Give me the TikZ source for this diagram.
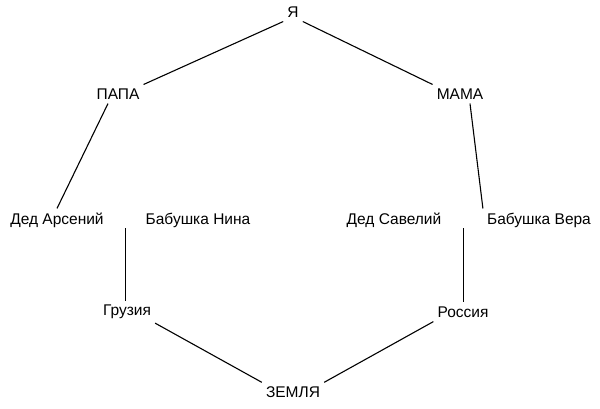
\documentclass[tikz,border=0pt]{standalone}
\usepackage{fontspec}
\setmainfont{Liberation Sans}
\begin{document}
\begin{tikzpicture}[x=1pt,y=-1pt,
  lbl/.style={inner sep=4pt,font=\fontsize{15.5}{17}\selectfont},
  link/.style={draw,line width=1.1pt}]
\useasboundingbox (0,0) rectangle (600,408);
\node[lbl] (ya) at (293,12) {Я};
\node[lbl] (papa) at (118,94) {ПАПА};
\node[lbl] (mama) at (460,94) {МАМА};
\node[lbl] (ars) at (57,220) {Дед Арсений};
\node[lbl] (nina) at (198,220) {Бабушка Нина};
\node[lbl] (sav) at (394,220) {Дед Савелий};
\node[lbl] (vera) at (539,220) {Бабушка Вера};
\node[lbl] (gruz) at (127,312) {Грузия};
\node[lbl] (ros) at (463,312) {Россия};
\node[lbl] (zem) at (293,392) {ЗЕМЛЯ};
\coordinate (lt) at (125.3,228);
\coordinate (rt) at (463.3,228);
\draw[link] (ya.south west) -- (papa.north east);
\draw[link] (ya.south east) -- (mama.north west);
\draw[link] (papa.south) ++(-10,0) coordinate (p1) (p1) -- (ars.north);
\draw[link] (mama.south) ++(10,0) coordinate (m1) (m1) -- (vera.north west);
\draw[link] (lt) -- (lt |- gruz.north);
\draw[link] (rt) -- (rt |- ros.north);
\draw[link] (gruz.south east) -- (zem.north west);
\draw[link] (ros.south west) -- (zem.north east);
\end{tikzpicture}
\end{document}
